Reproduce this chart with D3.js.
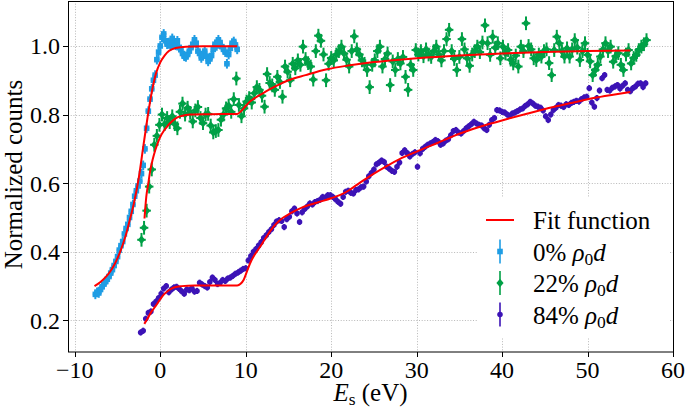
<!DOCTYPE html>
<html><head><meta charset="utf-8">
<script src="https://cdn.jsdelivr.net/npm/d3@7/dist/d3.min.js"></script>
<style>
body{margin:0;background:#fff}
svg{display:block}
</style>
</head><body>
<svg id="chart" width="685" height="408"></svg>
<script>
// ---------------- data ----------------
const xTicks = [-10, 0, 10, 20, 30, 40, 50, 60];
const yTicks = [0.2, 0.4, 0.6, 0.8, 1.0];
const legendLabels = ["Fit function", "0%", "22%", "84%"];

// 0% rho0 d  (energy grid start / step, normalized counts)
const blueStart = -7.6, blueStep = 0.2;
const blueY = [0.276,0.282,0.280,0.290,0.298,0.306,0.313,0.320,0.328,0.338,0.348,0.360,0.372,0.386,0.405,0.418,0.430,0.452,0.468,0.480,
0.500,0.518,0.538,0.562,0.578,0.592,0.606,0.628,0.652,0.700,0.760,0.810,0.845,0.875,0.900,0.915,0.960,0.982,1.000,1.025,
1.035,1.015,1.005,1.010,1.000,1.022,1.008,1.002,1.015,0.995,0.990,0.978,0.970,0.968,0.975,0.985,0.995,1.005,1.018,1.008,
0.985,0.978,0.965,0.975,0.985,0.970,0.955,0.962,0.972,0.990,1.005,1.000,1.018,1.010,0.998,0.990,0.982,0.948,0.975,0.993,
1.008,1.013,1.003,0.990];

// 22% rho0 d
const greenStart = -2.2, greenStep = 0.3;
const greenY = [0.435,0.470,0.520,0.590,0.640,0.712,0.738,0.770,0.800,0.772,0.790,0.778,0.795,0.772,0.760,0.808,0.832,0.800,0.820,0.805,
0.780,0.812,0.822,0.790,0.775,0.800,0.802,0.768,0.748,0.752,0.755,0.785,0.800,0.818,0.826,0.808,0.845,0.905,0.828,0.795,
0.818,0.838,0.848,0.835,0.862,0.880,0.872,0.855,0.823,0.918,0.892,0.885,0.872,0.910,0.895,0.852,0.940,0.925,0.900,0.948,
0.935,0.958,0.945,0.998,0.962,0.950,0.940,0.902,0.985,1.030,1.015,0.975,0.900,0.948,0.965,0.958,0.975,0.985,0.998,0.978,
0.960,0.940,0.985,1.028,0.990,0.975,0.958,0.948,0.930,0.880,0.945,0.958,0.985,0.998,0.940,0.962,0.978,0.886,0.955,0.930,
0.962,0.949,0.968,0.910,0.872,0.945,0.930,0.988,0.975,0.985,0.970,0.990,0.975,0.968,0.985,0.998,0.975,0.958,0.985,1.020,
1.047,0.985,0.962,0.930,0.968,1.020,0.990,0.964,0.942,0.975,0.985,0.998,0.982,1.010,1.060,1.008,0.974,1.027,0.995,1.008,
0.964,0.998,0.978,0.988,0.960,0.949,0.972,0.940,0.998,0.985,1.066,1.000,0.990,0.964,0.959,0.975,0.969,0.985,0.990,0.950,
0.915,0.988,1.027,1.008,0.985,0.969,0.993,0.969,0.990,1.017,0.995,0.959,0.985,1.008,0.974,0.955,0.915,0.930,0.945,0.969,
0.990,1.008,0.985,0.998,0.954,0.970,0.979,0.945,0.930,0.975,0.988,0.949,0.965,0.974,0.988,0.998,1.005,1.017];

// 84% rho0 d
const purpleStart = -2.3, purpleStep = 0.3;
const purpleY = [0.165,0.170,0.205,0.222,0.226,0.248,0.255,0.265,0.278,0.293,0.300,0.282,0.290,0.296,0.298,0.292,0.285,0.278,0.290,0.288,
0.294,0.284,0.286,0.310,0.305,0.300,0.296,0.312,0.325,0.318,0.306,0.310,0.318,0.315,0.322,0.325,0.330,0.336,0.340,0.345,
0.350,0.352,0.375,0.388,0.400,0.408,0.418,0.428,0.440,0.448,0.458,0.466,0.478,0.488,0.492,0.490,0.472,0.495,0.502,0.518,
0.526,0.512,0.487,0.515,0.525,0.532,0.541,0.538,0.545,0.548,0.552,0.560,0.558,0.565,0.565,0.560,0.553,0.546,0.540,0.560,
0.575,0.578,0.572,0.570,0.580,0.582,0.588,0.590,0.605,0.620,0.630,0.640,0.655,0.660,0.666,0.662,0.648,0.642,0.636,0.633,
0.648,0.660,0.688,0.696,0.688,0.678,0.685,0.690,0.648,0.687,0.700,0.706,0.712,0.716,0.720,0.726,0.722,0.712,0.716,0.724,
0.728,0.740,0.752,0.755,0.748,0.745,0.752,0.760,0.766,0.772,0.779,0.774,0.770,0.768,0.760,0.755,0.770,0.784,0.790,0.813,
0.812,0.808,0.806,0.800,0.796,0.803,0.806,0.810,0.815,0.818,0.825,0.830,0.837,0.832,0.826,0.823,0.820,0.812,0.795,0.784,
0.800,0.813,0.820,0.828,0.826,0.822,0.830,0.828,0.834,0.837,0.840,0.838,0.845,0.850,0.852,0.877,0.835,0.823,0.848,0.870,
0.906,0.915,0.872,0.870,0.878,0.882,0.886,0.876,0.884,0.891,0.872,0.868,0.877,0.882,0.890,0.891,0.880,0.891];

// fit functions
const fitBlueX = [-7.7,-7.0,-6.4,-5.8,-5.3,-4.7,-4.1,-3.6,-3.1,-2.5,-2.0,-1.5,-1.0,-0.5,0.0,0.5,1.0,1.8,3.0,5.0,9.0];
const fitBlueY = [0.300,0.312,0.326,0.345,0.366,0.400,0.443,0.490,0.540,0.618,0.705,0.790,0.865,0.920,0.952,0.972,0.985,0.994,0.998,0.999,0.999];
const fitGreenX = [-1.85,-1.64,-1.4,-1.17,-0.9,-0.59,-0.3,0.0,0.4,0.8,1.2,1.8,2.5,3.5,6.0,9.0,9.5,10.0,10.5,11.0,12.0,13.0,14.0,15.0,17.0,19.5,22.0,25.0,28.0,30.0,35.0,40.0,45.0,50.0,55.0];
const fitGreenY = [0.497,0.560,0.600,0.638,0.668,0.696,0.717,0.735,0.752,0.765,0.776,0.789,0.796,0.800,0.801,0.802,0.811,0.825,0.838,0.847,0.862,0.876,0.889,0.900,0.915,0.932,0.943,0.953,0.960,0.964,0.972,0.978,0.982,0.985,0.987];
const fitPurpleX = [-1.87,-1.5,-1.0,-0.6,0.0,0.4,1.0,1.6,2.5,4.0,9.0,9.4,9.75,10.1,10.5,11.0,11.5,12.2,12.9,13.6,14.4,15.2,16.5,18.3,20.0,21.0,22.0,23.0,24.0,25.0,26.5,28.0,30.0,32.5,35.0,37.5,40.6,43.0,46.0,48.5,50.7,53.0,55.0];
const fitPurpleY = [0.190,0.205,0.227,0.240,0.262,0.275,0.288,0.296,0.300,0.302,0.302,0.307,0.318,0.340,0.366,0.390,0.408,0.435,0.462,0.483,0.500,0.512,0.528,0.543,0.556,0.565,0.578,0.595,0.612,0.628,0.650,0.670,0.692,0.718,0.744,0.765,0.787,0.803,0.822,0.836,0.848,0.858,0.866];

// ---------------- chart ----------------
const FONT = "'Liberation Serif', 'DejaVu Serif', serif";
const L = 68, R = 673, T = 1, B = 352;
const svg = d3.select("#chart").attr("font-family", FONT);
const x = d3.scaleLinear().domain([-10.8, 60]).range([L, R]);
const y = d3.scaleLinear().domain([0.108, 1.131]).range([B, T]);

const colors = {fit:"#ff0000", blue:"#1f9de4", green:"#00a046", purple:"#3c13b6"};

// grid
const grid = svg.append("g");
grid.selectAll(".gx").data(xTicks).enter().append("line")
  .attr("x1", d => Math.round(x(d)) + 0.5).attr("x2", d => Math.round(x(d)) + 0.5)
  .attr("y1", T).attr("y2", B)
  .attr("stroke", "#b0b0b0").attr("stroke-width", 0.9).attr("stroke-dasharray", "1,1.7");
grid.selectAll(".gy").data(yTicks).enter().append("line")
  .attr("y1", d => Math.round(y(d)) + 0.5).attr("y2", d => Math.round(y(d)) + 0.5)
  .attr("x1", L).attr("x2", R)
  .attr("stroke", "#b0b0b0").attr("stroke-width", 0.9).attr("stroke-dasharray", "1,1.7");

function toPts(start, step, ys) { return ys.map((v, i) => [start + i * step, v]); }

function drawSeries(pts, color, ex, ey, shape, lw) {
  const g = svg.append("g");
  const p = g.selectAll("g").data(pts).enter().append("g");
  p.append("line")
    .attr("x1", d => x(d[0])).attr("x2", d => x(d[0]))
    .attr("y1", d => y(d[1] - ey)).attr("y2", d => y(d[1] + ey))
    .attr("stroke", color).attr("stroke-width", lw);
  p.append("line")
    .attr("x1", d => x(d[0] - ex)).attr("x2", d => x(d[0] + ex))
    .attr("y1", d => y(d[1])).attr("y2", d => y(d[1]))
    .attr("stroke", color).attr("stroke-width", lw);
  p.append("path")
    .attr("transform", d => `translate(${x(d[0])},${y(d[1])})`)
    .attr("d", shape).attr("fill", color);
}

const sq = "M-2.8,-2.8H2.8V2.8H-2.8Z";
const dia = "M0,-4.3L3.6,0L0,4.3L-3.6,0Z";
const circ = d3.symbol().type(d3.symbolCircle).size(24)();

drawSeries(toPts(blueStart, blueStep, blueY), colors.blue, 0.3, 0.014, sq, 2);
drawSeries(toPts(greenStart, greenStep, greenY), colors.green, 0.5, 0.02, dia, 2);
drawSeries(toPts(purpleStart, purpleStep, purpleY), colors.purple, 0.25, 0.009, circ, 2);

// fit lines
const line = d3.line().x(d => x(d[0])).y(d => y(d[1])).curve(d3.curveMonotoneX);
[[fitBlueX, fitBlueY], [fitGreenX, fitGreenY], [fitPurpleX, fitPurpleY]].forEach(([xs, ys]) => {
  svg.append("path").datum(xs.map((v, i) => [v, ys[i]]))
    .attr("d", line).attr("fill", "none").attr("stroke", colors.fit).attr("stroke-width", 2);
});

// frame
svg.append("rect").attr("x", L + 0.5).attr("y", T + 0.5).attr("width", R - L).attr("height", B - T - 0.5)
  .attr("fill", "none").attr("stroke", "#000").attr("stroke-width", 1);

// axes
const fsT = 24, fs = 25;
const fmtX = d => d < 0 ? "\u2212" + Math.abs(d) : String(d);
const ax = svg.append("g");
ax.selectAll(".tx").data(xTicks).enter().append("line")
  .attr("x1", d => Math.round(x(d)) + 0.5).attr("x2", d => Math.round(x(d)) + 0.5)
  .attr("y1", B).attr("y2", B + 5).attr("stroke", "#000");
ax.selectAll(".lx").data(xTicks).enter().append("text")
  .attr("x", d => x(d)).attr("y", B + 26).attr("text-anchor", "middle")
  .attr("font-size", fsT).text(fmtX);
ax.selectAll(".ty").data(yTicks).enter().append("line")
  .attr("y1", d => Math.round(y(d)) + 0.5).attr("y2", d => Math.round(y(d)) + 0.5)
  .attr("x1", L - 5).attr("x2", L).attr("stroke", "#000");
ax.selectAll(".ly").data(yTicks).enter().append("text")
  .attr("x", L - 8).attr("y", d => y(d) + 8.5).attr("text-anchor", "end")
  .attr("font-size", fsT).text(d => d.toFixed(1));

// axis labels
const xl = svg.append("text").attr("x", (L + R) / 2).attr("y", 401).attr("text-anchor", "middle").attr("font-size", fs);
xl.append("tspan").attr("font-style", "italic").text("E");
xl.append("tspan").attr("font-size", fs * 0.7).attr("dy", 4).text("s");
xl.append("tspan").attr("dy", -4).text(" (eV)");
svg.append("text").attr("transform", `translate(22,${(T + B) / 2 - 2}) rotate(-90)`)
  .attr("text-anchor", "middle").attr("font-size", fs).text("Normalized counts");

// legend
const lg = svg.append("g");
lg.append("rect").attr("x", 477).attr("y", 198).attr("width", 193).attr("height", 140).attr("fill", "#fff");
const lx = 500, tx = 533;
const rowY = [220, 251.5, 283, 314.5];
lg.append("line").attr("x1", lx - 14).attr("x2", lx + 14).attr("y1", rowY[0]).attr("y2", rowY[0])
  .attr("stroke", colors.fit).attr("stroke-width", 2);
lg.append("text").attr("x", tx).attr("y", rowY[0] + 9).attr("font-size", fs).text(legendLabels[0]);
const legSeries = [[colors.blue, sq], [colors.green, dia], [colors.purple, circ]];
legSeries.forEach(([c, shape], i) => {
  const cy = rowY[i + 1];
  lg.append("line").attr("x1", lx).attr("x2", lx).attr("y1", cy - 12).attr("y2", cy + 12)
    .attr("stroke", c).attr("stroke-width", 1.6);
  lg.append("path").attr("transform", `translate(${lx},${cy})`).attr("d", shape).attr("fill", c);
  const t = lg.append("text").attr("x", tx).attr("y", cy + 9).attr("font-size", fs);
  t.append("tspan").text(legendLabels[i + 1] + " ");
  t.append("tspan").attr("font-style", "italic").text("\u03C1");
  t.append("tspan").attr("font-size", fs * 0.7).attr("dy", 4).text("0");
  t.append("tspan").attr("dy", -4).attr("font-style", "italic").text("d");
});
</script>
</body></html>
